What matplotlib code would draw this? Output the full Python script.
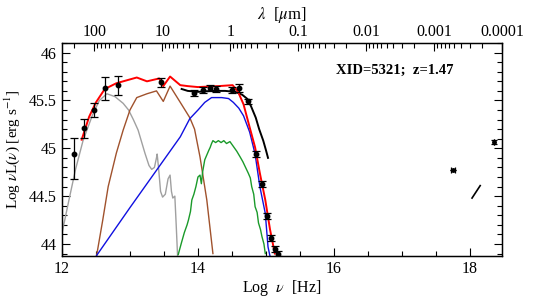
import numpy as np
import matplotlib
matplotlib.use("Agg")
import matplotlib.pyplot as plt

plt.rcParams['font.family'] = ['Liberation Serif', 'DejaVu Serif']
plt.rcParams['mathtext.fontset'] = 'stix'

# photometry (log nu, log nuL, lower err, upper err)
phot_x = [12.18, 12.33, 12.47, 12.63, 12.82, 13.45, 13.94, 14.07, 14.18, 14.26,
          14.50, 14.61, 14.74, 14.86, 14.94, 15.02, 15.08, 15.14, 15.17]
phot_y = [44.94, 45.21, 45.40, 45.63, 45.66, 45.69, 45.58, 45.61, 45.63, 45.62,
          45.61, 45.63, 45.49, 44.94, 44.63, 44.29, 44.06, 43.95, 43.90]
phot_lo = [0.26, 0.10, 0.07, 0.12, 0.10, 0.05, 0.03, 0.03, 0.03, 0.03,
           0.03, 0.04, 0.03, 0.03, 0.03, 0.03, 0.03, 0.03, 0.03]
phot_hi = [0.17, 0.10, 0.07, 0.12, 0.10, 0.05, 0.03, 0.03, 0.03, 0.03,
           0.03, 0.04, 0.03, 0.03, 0.03, 0.03, 0.03, 0.03, 0.03]

# X-ray
xr_x = [17.75, 18.35]
xr_y = [44.77, 45.07]
xr_yerr = [0.0, 0.02]
xr_xerr = [0.03, 0.0]
pl_x = [18.03, 18.15]
pl_y = [44.48, 44.61]

# model components
gray_x = [12.0, 12.1, 12.2, 12.31, 12.45, 12.55, 12.66, 12.78, 12.9, 12.98, 13.05,
          13.12, 13.22, 13.28, 13.32, 13.36, 13.39, 13.40, 13.42, 13.45, 13.48,
          13.52, 13.56, 13.59, 13.61, 13.63, 13.66, 13.68, 13.70]
gray_y = [44.11, 44.45, 44.78, 45.08, 45.35, 45.50, 45.57, 45.54, 45.47, 45.40, 45.30,
          45.19, 44.95, 44.82, 44.78, 44.80, 44.90, 44.94, 44.80, 44.55, 44.49,
          44.52, 44.68, 44.72, 44.55, 44.48, 44.50, 44.20, 43.88]

brown_x = [12.51, 12.60, 12.68, 12.80, 12.90, 13.00, 13.10, 13.25, 13.39, 13.49,
           13.59, 13.74, 13.88, 13.95, 14.03, 14.13, 14.22]
brown_y = [43.88, 44.25, 44.60, 44.95, 45.19, 45.40, 45.53, 45.57, 45.60, 45.49,
           45.65, 45.48, 45.32, 45.20, 44.91, 44.46, 43.90]

blue_x = [12.51, 13.0, 13.5, 13.74, 13.88, 14.00, 14.10, 14.20, 14.35, 14.45,
          14.52, 14.60, 14.67, 14.76, 14.84, 14.91, 14.99, 15.03, 15.06]
blue_y = [43.88, 44.38, 44.88, 45.12, 45.31, 45.40, 45.48, 45.53, 45.53, 45.52,
          45.48, 45.42, 45.34, 45.17, 44.94, 44.60, 44.32, 43.97, 43.87]

green_x = [13.71, 13.76, 13.80, 13.84, 13.86, 13.89, 13.91, 13.94, 13.97, 14.00,
           14.03, 14.05, 14.07, 14.10, 14.13, 14.16, 14.18, 14.20, 14.22, 14.26,
           14.30, 14.34, 14.38, 14.42, 14.47, 14.52, 14.57, 14.62, 14.66, 14.70,
           14.74, 14.77, 14.79, 14.82, 14.84, 14.87, 14.89, 14.92, 14.94, 14.97, 14.99]
green_y = [43.89, 44.02, 44.12, 44.20, 44.25, 44.34, 44.46, 44.52, 44.60, 44.70,
           44.72, 44.63, 44.76, 44.88, 44.93, 44.98, 45.01, 45.05, 45.08, 45.06,
           45.08, 45.06, 45.08, 45.05, 45.07, 45.02, 44.97, 44.91, 44.86, 44.80,
           44.74, 44.69, 44.60, 44.52, 44.39, 44.33, 44.22, 44.15, 44.08, 44.00, 43.90]

red_x = [12.29, 12.40, 12.50, 12.63, 12.80, 12.95, 13.10, 13.25, 13.43, 13.49,
         13.59, 13.74, 13.85, 14.0, 14.3, 14.51, 14.59, 14.67, 14.76, 14.84,
         14.91, 14.99, 15.06, 15.13]
red_y = [45.09, 45.33, 45.48, 45.62, 45.68, 45.71, 45.74, 45.70, 45.73, 45.65,
         45.75, 45.66, 45.65, 45.64, 45.65, 45.66, 45.59, 45.46, 45.22, 45.01,
         44.74, 44.46, 44.15, 43.90]

black_x = [13.76, 13.85, 14.0, 14.2, 14.4, 14.55, 14.65, 14.72, 14.78, 14.85,
           14.90, 14.96, 15.0, 15.03]
black_y = [45.62, 45.60, 45.59, 45.60, 45.60, 45.59, 45.56, 45.52, 45.44, 45.32,
           45.20, 45.08, 44.98, 44.90]

lam_labels = ['100', '10', '1', '0.1', '0.01', '0.001', '0.0001']
lam_values = [100, 10, 1, 0.1, 0.01, 0.001, 0.0001]
LOG_C_UM = np.log10(2.998e14)  # c in micron/s

fig = plt.figure(figsize=(5.34, 2.99), dpi=100)
ax = fig.add_axes([0.116, 0.144, 0.824, 0.712])

ax.plot(gray_x, gray_y, color='#a0a0a0', lw=1.0)
ax.plot(brown_x, brown_y, color='#a0522d', lw=1.0)
ax.plot(blue_x, blue_y, color='#1010e0', lw=1.0)
ax.plot(green_x, green_y, color='#1a9a2a', lw=1.0)
ax.plot(black_x, black_y, color='black', lw=1.4)
ax.plot(red_x, red_y, color='#ff0000', lw=1.4)

ax.errorbar(phot_x, phot_y, yerr=[phot_lo, phot_hi], fmt='o', ms=3.2, color='black',
            ecolor='black', elinewidth=0.9, capsize=3, capthick=0.9, zorder=5)
ax.errorbar(xr_x, xr_y, yerr=xr_yerr, xerr=xr_xerr, fmt='o', ms=2.5, color='black',
            elinewidth=0.9, capsize=2.5, capthick=0.9, zorder=5)
ax.plot(pl_x, pl_y, color='black', lw=1.2)

ax.set_xlim(12, 18.47)
ax.set_ylim(43.875, 46.09)
ax.set_xticks([12, 14, 16, 18])
ax.set_xticks(np.arange(12, 18.5, 0.5), minor=True)
ax.set_yticks([44, 44.5, 45, 45.5, 46])
ax.set_yticklabels(['44', '44.5', '45', '45.5', '46'])
ax.set_yticks(np.arange(43.9, 46.1, 0.1), minor=True)
ax.tick_params(which='both', direction='in', top=False, right=True, labelsize=11.5)
ax.tick_params(which='major', length=6, width=0.8)
ax.tick_params(which='minor', length=3.5, width=0.8)
for s in ax.spines.values():
    s.set_linewidth(1.0)

ax.set_xlabel(r'Log  $\nu$  [Hz]', fontsize=11.5, labelpad=1)
ax.set_ylabel(r'Log $\nu$L($\nu$) [erg s$^{-1}$]', fontsize=11, labelpad=5)

# wavelength axis on top
top = ax.twiny()
top.set_xlim(ax.get_xlim())
top.set_xticks([LOG_C_UM - np.log10(v) for v in lam_values])
top.set_xticklabels(lam_labels)
minor_pos = []
for dec in [100, 10, 1, 0.1, 0.01, 0.001, 0.0001, 0.00001]:
    for k in range(2, 10):
        p = LOG_C_UM - np.log10(k * dec)
        if 12 <= p <= 18.47:
            minor_pos.append(p)
top.set_xticks(minor_pos, minor=True)
top.tick_params(which='both', direction='in', labelsize=11.5, pad=2)
top.tick_params(which='major', length=6, width=0.8)
top.tick_params(which='minor', length=3.5, width=0.8)
top.set_xlabel(r'$\lambda$  [$\mu$m]', fontsize=12, labelpad=4)

ax.text(0.623, 0.873, 'XID=5321;  z=1.47', transform=ax.transAxes, fontsize=10.5,
        fontweight='semibold', ha='left', va='center')

fig.savefig('out.png', dpi=100)
